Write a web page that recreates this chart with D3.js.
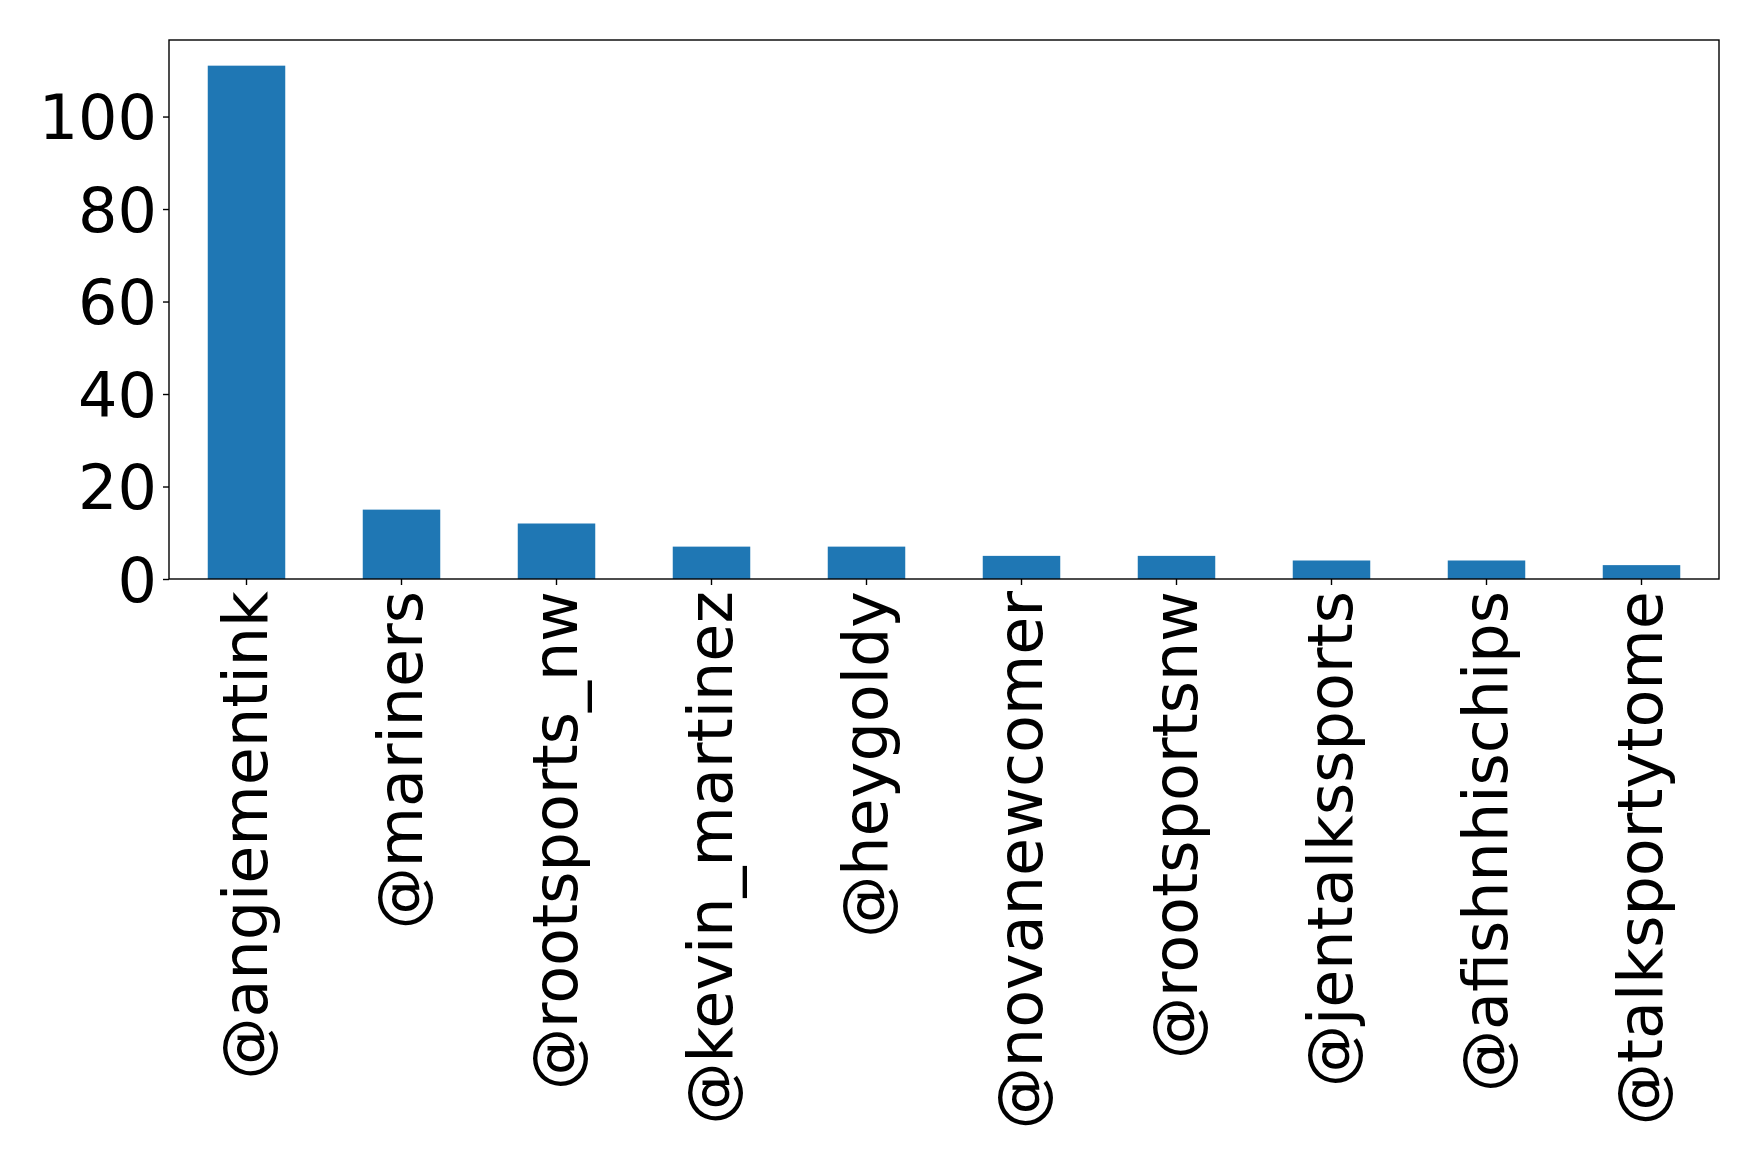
<!DOCTYPE html>
<html>
<head>
<meta charset="utf-8">
<script src="https://cdn.jsdelivr.net/npm/d3@7"></script>
<style>
  body { margin: 0; background: #fff; }
  svg { display: block; }
  svg text { font-family: "DejaVu Sans", sans-serif; }
</style>
</head>
<body>
<svg id="chart" width="1758" height="1171"></svg>
<script>
// Mention counts per account
var accounts = ["@angiementink", "@mariners", "@rootsports_nw", "@kevin_martinez", "@heygoldy",
	"@novanewcomer", "@rootsportsnw", "@jentalkssports", "@afishnhischips", "@talksportytome"];
var counts = [111, 15, 12, 7, 7, 5, 5, 4, 4, 3];
var yTicks = [0, 20, 40, 60, 80, 100];

var margin = { top: 40, right: 39, bottom: 592, left: 169 };
var width = 1758 - margin.left - margin.right;
var height = 1171 - margin.top - margin.bottom;

var svg = d3.select("#chart");
var g = svg.append("g").attr("transform", `translate(${margin.left},${margin.top})`);

var x = d3.scaleBand()
	.domain(accounts)
	.range([0, width])
	.paddingInner(0.5)
	.paddingOuter(0.25);

var y = d3.scaleLinear()
	.domain([0, d3.max(counts) * 1.05])
	.range([height, 0]);

// Bars
g.selectAll(".bar")
	.data(accounts)
	.enter()
	.append("rect")
	.attr("class", "bar")
	.attr("x", d => x(d))
	.attr("y", (d, i) => y(counts[i]))
	.attr("width", x.bandwidth())
	.attr("height", (d, i) => height - y(counts[i]))
	.attr("fill", "#1f77b4");

// Y axis
var yAxis = g.append("g")
	.call(d3.axisLeft(y).tickValues(yTicks).tickSize(6).tickPadding(6));
yAxis.attr("font-family", "DejaVu Sans");
yAxis.select(".domain").remove();
yAxis.selectAll("text").attr("font-size", 62).attr("fill", "#000").attr("dy", "0.36em");
yAxis.selectAll("line").attr("stroke", "#000").attr("stroke-width", 1.4);

// X axis
var xAxis = g.append("g")
	.attr("transform", `translate(0,${height})`)
	.call(d3.axisBottom(x).tickSize(6).tickPadding(6));
xAxis.attr("font-family", "DejaVu Sans");
xAxis.select(".domain").remove();
xAxis.selectAll("line").attr("stroke", "#000").attr("stroke-width", 1.4);
xAxis.selectAll("text")
	.attr("font-size", 62)
	.attr("fill", "#000")
	.attr("text-anchor", "end")
	.attr("transform", "rotate(-90)")
	.attr("x", -12)
	.attr("y", 0)
	.attr("dy", "0.33em");

// Frame
g.append("rect")
	.attr("width", width)
	.attr("height", height)
	.attr("fill", "none")
	.attr("stroke", "#000")
	.attr("stroke-width", 1.4);
</script>
</body>
</html>
